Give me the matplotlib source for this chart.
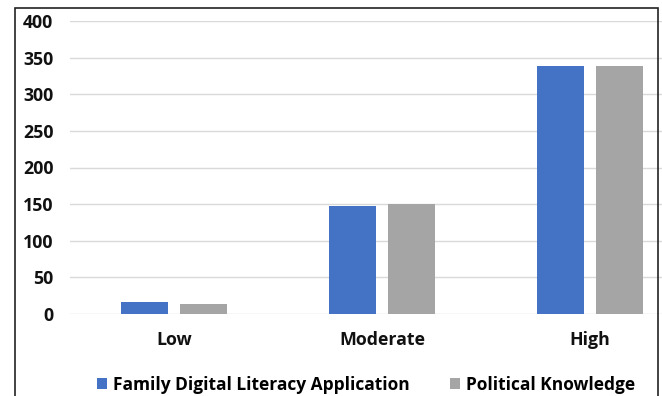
import numpy as np
import matplotlib.pyplot as plt
from matplotlib.patches import Rectangle

categories = ["Low", "Moderate", "High"]
family_digital = [16, 147, 338]
political_knowledge = [14, 150, 338]
series_names = ["Family Digital Literacy Application", "Political Knowledge"]
yticks = [0, 50, 100, 150, 200, 250, 300, 350, 400]

plt.rcParams['font.family'] = ['Open Sans', 'DejaVu Sans']
plt.rcParams['font.weight'] = 'bold'

W, H = 662, 396
fig = plt.figure(figsize=(W / 100, H / 100), dpi=100)

# plot area in pixels (right part runs past the cropped edge)
left, right, top, bottom = 70, 694, 21, 314
ax = fig.add_axes([left / W, 1 - bottom / H, (right - left) / W, (bottom - top) / H])

x = np.arange(len(categories))
bw = 0.225
off = 0.143
ax.bar(x - off, family_digital, bw, color="#4472C4", label=series_names[0], zorder=3)
ax.bar(x + off, political_knowledge, bw, color="#A5A5A5", label=series_names[1], zorder=3)

ax.set_xlim(-0.5, 2.5)
ax.set_ylim(0, 400)
ax.set_yticks(yticks)
ax.set_xticks(x)
ax.set_xticklabels(categories)
ax.grid(axis="y", color="#d9d9d9", linewidth=1, zorder=0)
ax.set_axisbelow(True)
for s in ax.spines.values():
    s.set_visible(False)
ax.tick_params(axis="both", length=0, labelsize=12.8, colors="#111111")
ax.tick_params(axis="y", pad=12)
ax.tick_params(axis="x", pad=12)
for lab in ax.get_xticklabels() + ax.get_yticklabels():
    lab.set_fontweight("bold")

leg = fig.legend(loc="center", bbox_to_anchor=(366 / W, 1 - 385 / H), ncol=2,
                 frameon=False, prop={"size": 12.5, "weight": "bold"},
                 handlelength=0.6, handleheight=0.6,
                 handletextpad=0.35, columnspacing=2.3)

# outer border of the screenshot
fig.patches.append(Rectangle((15 / W, -0.1), (658 - 15) / W, 1.1 - 8 / H,
                             transform=fig.transFigure, fill=False,
                             edgecolor="#222222", linewidth=1.2))

fig.savefig("out.png", dpi=100)
